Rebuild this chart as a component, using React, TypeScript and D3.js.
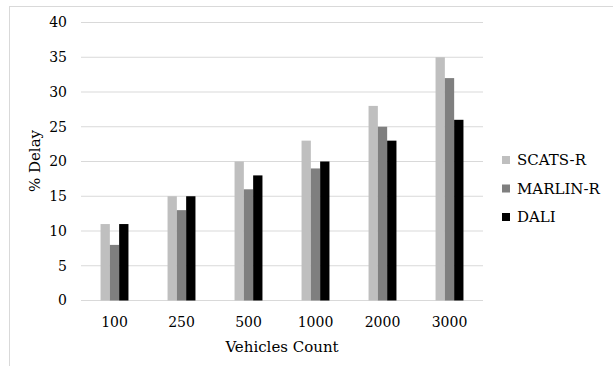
import React from "react";
import * as d3 from "d3";

const categories = ["100", "250", "500", "1000", "2000", "3000"];
const seriesNames = ["SCATS-R", "MARLIN-R", "DALI"];
const scatsR = [11, 15, 20, 23, 28, 35];
const marlinR = [8, 13, 16, 19, 25, 32];
const dali = [11, 15, 18, 20, 23, 26];
const yTicks = [0, 5, 10, 15, 20, 25, 30, 35, 40];
const colors = ["#BFBFBF", "#7F7F7F", "#000000"];

export default function App() {
  const W = 613, H = 366;
  const left = 81, right = 483, top = 22.5, bottom = 300.5;
  const font = "'DejaVu Serif', serif";
  const ts = { fontFamily: font };
  const series = [scatsR, marlinR, dali];

  const x = d3.scaleBand<string>().domain(categories).range([left, right]).paddingInner(0).paddingOuter(0);
  const y = d3.scaleLinear().domain([0, 40]).range([bottom, top]);
  const groupW = x.bandwidth() / 2.4;
  const inner = d3.scaleBand<number>().domain([0, 1, 2]).range([0, groupW]);

  return (
    <svg width={W} height={H} style={{ position: "absolute", left: 0, top: 0, fontFamily: font }}>
      <rect x={0} y={0} width={W} height={H} fill="#fff" />
      <rect x={9.5} y={6.5} width={620} height={400} fill="none" stroke="#D9D9D9" />
      {yTicks.map((t) => (
        <g key={t}>
          <line x1={left} x2={right} y1={y(t)} y2={y(t)} stroke="#D9D9D9" strokeWidth={1} />
          <text style={ts} x={67} y={y(t)} dy="0.35em" textAnchor="end" fontSize={14} fill="#000">{t}</text>
        </g>
      ))}
      {categories.map((c, i) => {
        const gx = (x(c) as number) + (x.bandwidth() - groupW) / 2;
        return (
          <g key={c}>
            {series.map((s, j) => (
              <rect key={j} x={gx + (inner(j) as number)} y={y(s[i])} width={inner.bandwidth()}
                height={y(0) - y(s[i])} fill={colors[j]} />
            ))}
            <text style={ts} x={(x(c) as number) + x.bandwidth() / 2} y={327} textAnchor="middle" fontSize={14} fill="#000">{c}</text>
          </g>
        );
      })}
      <text style={ts} x={282} y={352} textAnchor="middle" fontSize={15} fill="#000">Vehicles Count</text>
      <text style={ts} transform="translate(40,161) rotate(-90)" textAnchor="middle" fontSize={15} fill="#000">% Delay</text>
      {seriesNames.map((n, j) => (
        <g key={n}>
          <rect x={502} y={156 + j * 28.5} width={8} height={8} fill={colors[j]} />
          <text style={ts} x={517} y={160 + j * 28.5} dy="0.35em" fontSize={15} fill="#000">{n}</text>
        </g>
      ))}
    </svg>
  );
}
